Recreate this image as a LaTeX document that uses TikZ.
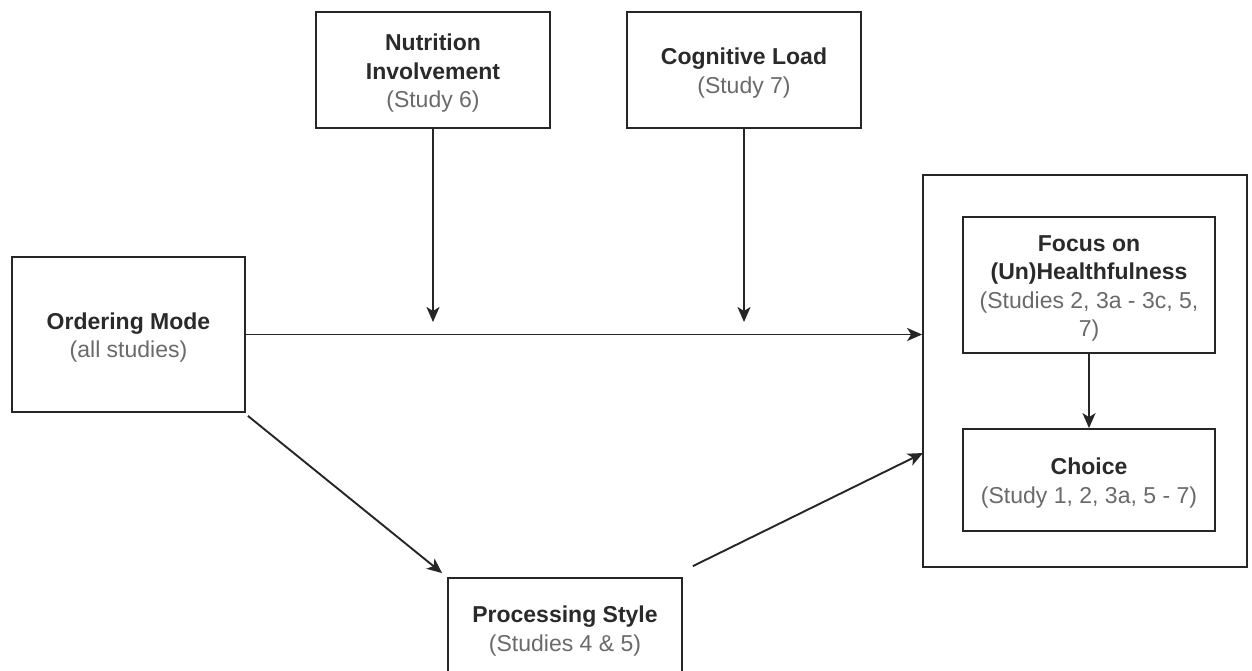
\documentclass[tikz,border=0pt]{standalone}
\usepackage{fontspec}
\setmainfont{Liberation Sans}
\usetikzlibrary{arrows.meta}
\definecolor{titlec}{HTML}{2A2A2A}
\definecolor{subc}{HTML}{6A6A6A}
\newcommand{\ttl}[1]{\textbf{#1}}
\newcommand{\sub}[1]{\textcolor{subc}{#1}}
\newcommand{\boxtxt}[1]{\raisebox{-3.5pt}[\height][\depth]{\begin{tabular}{@{}c@{}}#1\end{tabular}}}
\begin{document}
\begin{tikzpicture}[x=1pt,y=-1pt,
  box/.style={draw=black!85, line width=1.8pt, fill=white, inner sep=0pt,
    font=\fontsize{23}{28.5}\selectfont, text=titlec},
  conn/.style={line width=1.9pt, draw=black!85, -{Stealth[length=15pt,width=13pt,inset=4pt]}}]
\useasboundingbox (0,0) rectangle (1252,670);
\fill[white] (0,0) rectangle (1252,670);
% container
\node[box, minimum width=324pt, minimum height=392pt] (cont) at (1085,371) {};
% boxes
\node[box, minimum width=234pt, minimum height=116pt] (nut) at (433,70)
  {\boxtxt{\ttl{Nutrition}\\\ttl{Involvement}\\\sub{(Study 6)}}};
\node[box, minimum width=234pt, minimum height=116pt] (cog) at (744,70)
  {\boxtxt{\ttl{Cognitive Load}\\\sub{(Study 7)}}};
\node[box, minimum width=233pt, minimum height=155pt] (ord) at (128.5,334.5)
  {\boxtxt{\ttl{Ordering Mode}\\\sub{(all studies)}}};
\node[box, minimum width=234pt, minimum height=100pt] (proc) at (565,628)
  {\boxtxt{\ttl{Processing Style}\\\sub{(Studies 4 \& 5)}}};
\node[box, minimum width=252pt, minimum height=136pt] (foc) at (1089,285)
  {\boxtxt{\ttl{Focus on}\\\ttl{(Un)Healthfulness}\\\sub{(Studies 2, 3a - 3c, 5,}\\\sub{7)}}};
\node[box, minimum width=252pt, minimum height=102pt] (cho) at (1089,480)
  {\boxtxt{\ttl{Choice}\\\sub{(Study 1, 2, 3a, 5 - 7)}}};
% free ends
\coordinate (nutend) at (433,322);
\coordinate (cogend) at (744,322);
\coordinate (t2) at (923,453);
% connectors
\draw[conn] (nut.south) -- (nutend);
\draw[conn] (cog.south) -- (cogend);
\draw[conn] (ord.east) -- (ord.east -| cont.west);
\draw[conn] ([shift={(2,3)}]ord.south east) -- ([shift={(-5,-4)}]proc.north west);
\draw[conn] ([shift={(10,-11)}]proc.north east) -- (t2);
\draw[conn] (foc.south) -- (cho.north);
\end{tikzpicture}
\end{document}
